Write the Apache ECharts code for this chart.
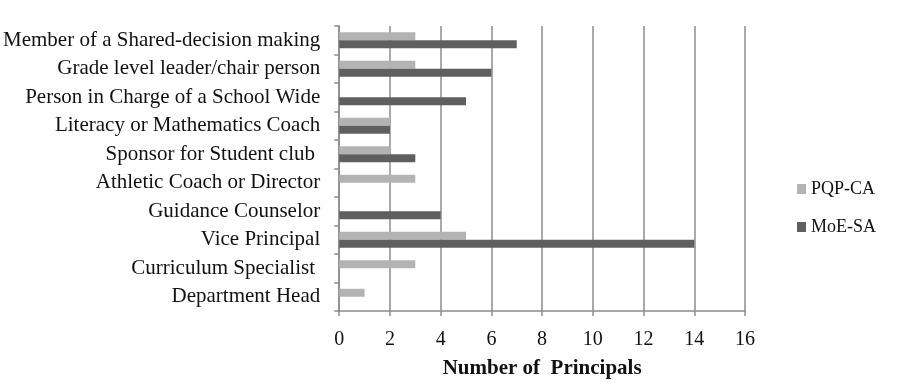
<!DOCTYPE html>
<html><head><meta charset="utf-8">
<script src="https://cdn.jsdelivr.net/npm/echarts@6/dist/echarts.min.js"></script>
<style>html,body{margin:0;padding:0;background:#fff}#c{width:900px;height:384px}</style>
</head><body><div id="c"></div>
<script>
const categories = ["Department Head","Curriculum Specialist ","Vice Principal","Guidance Counselor","Athletic Coach or Director","Sponsor for Student club ","Literacy or Mathematics Coach","Person in Charge of a School Wide","Grade level leader/chair person","Member of a Shared-decision making"];
const pqpCA = [1,3,5,0,3,2,2,0,3,3];
const moeSA = [0,0,14,4,0,3,2,5,6,7];
const xTicks = [0,2,4,6,8,10,12,14,16];
const font = "Liberation Serif";
const chart = echarts.init(document.getElementById('c'));
chart.setOption({
  animation:false,
  textStyle:{fontFamily:font},
  grid:{left:337,right:155,top:26,bottom:71,containLabel:false},
  legend:{orient:'vertical',left:792,top:175,itemGap:20,itemWidth:9,itemHeight:10,icon:'rect',
    data:['PQP-CA','MoE-SA'],textStyle:{fontFamily:font,fontSize:18,color:'#111'}},
  xAxis:{type:'value',min:xTicks[0],max:xTicks[xTicks.length-1],interval:2,
    name:'Number of  Principals',nameLocation:'middle',nameGap:47,
    nameTextStyle:{fontFamily:font,fontWeight:'bold',fontSize:21,color:'#111'},
    axisLine:{show:true,lineStyle:{color:'#8c8c8c',width:1.5}},
    axisTick:{show:true,length:5,lineStyle:{color:'#8c8c8c',width:1.5}},
    axisLabel:{margin:19,fontFamily:font,fontSize:20,color:'#111'},
    splitLine:{show:true,lineStyle:{color:'#8c8c8c',width:1.5}}},
  yAxis:{type:'category',data:categories,
    axisLine:{show:true,lineStyle:{color:'#8c8c8c',width:1.5}},
    axisTick:{show:true,length:5,lineStyle:{color:'#8c8c8c',width:1.5}},
    axisLabel:{margin:19,fontFamily:font,fontSize:21,color:'#111'},
    splitLine:{show:false}},
  series:[
    {name:'PQP-CA',type:'bar',data:pqpCA,itemStyle:{color:'#b3b3b3'},barGap:'0%',barCategoryGap:'44%'},
    {name:'MoE-SA',type:'bar',data:moeSA,itemStyle:{color:'#5f5f5f'},barGap:'0%',barCategoryGap:'44%'}
  ]
});
</script></body></html>
